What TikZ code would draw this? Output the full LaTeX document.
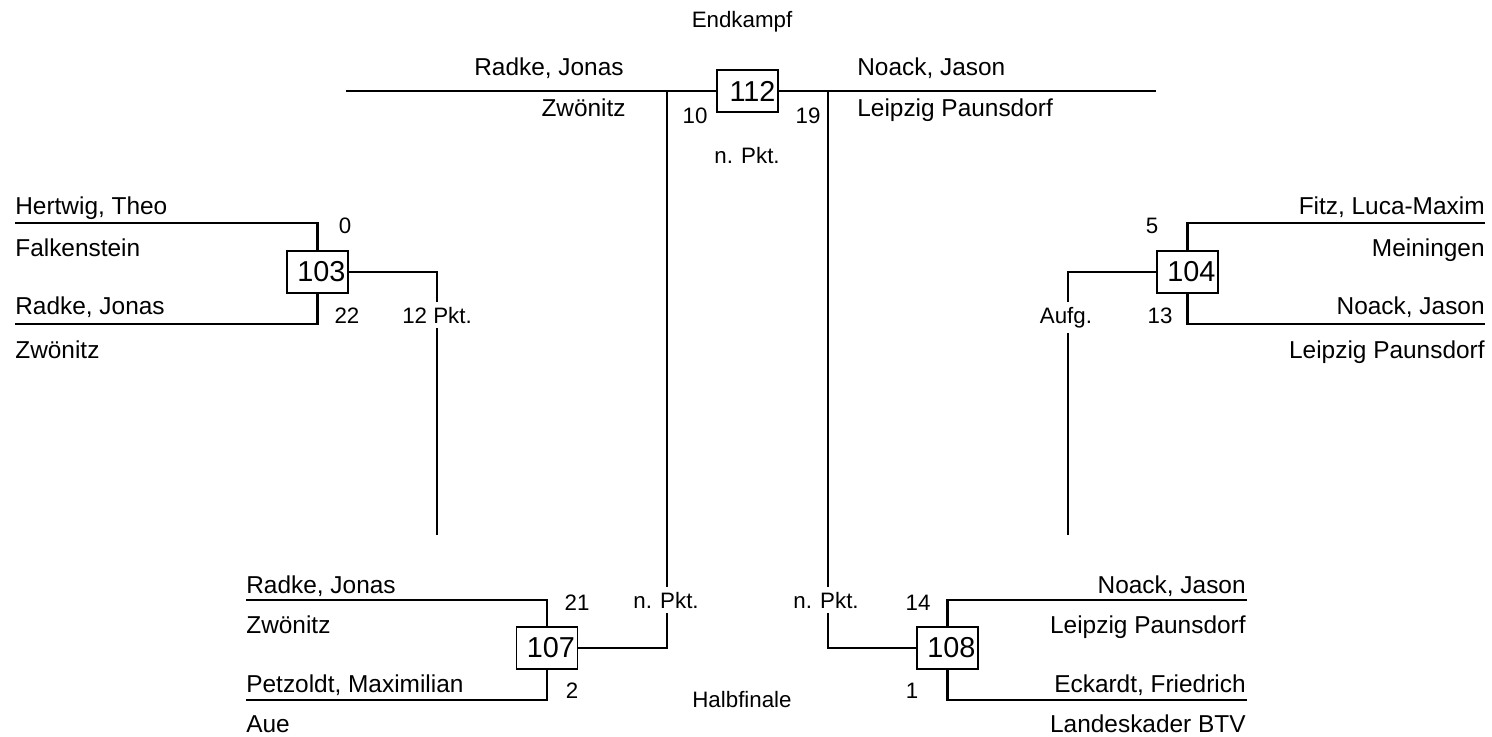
\documentclass[tikz,border=0pt]{standalone}
\usepackage{fontspec}
\setmainfont{Liberation Sans}
\tikzset{
	bar/.style={line width=1.4pt},
	match/.style={draw, line width=0.6pt, fill=white, text width=1.12cm, align=right, inner xsep=0.05cm, inner ysep=0pt, minimum height=0.84cm, font=\fontsize{16.4}{18}\selectfont},
	player/.style={inner sep=0pt, font=\fontsize{13.9}{16}\selectfont},
	pts/.style={inner sep=0pt, anchor=base, font=\fontsize{12.7}{15}\selectfont},
	res/.style={pts, fill=white, inner xsep=1pt, inner ysep=3pt}
}
\begin{document}
\begin{tikzpicture}[x=0.02cm, y=-0.02cm]

	\useasboundingbox (0,0) rectangle (1492,737);

	%Match boxes
	\node [match](m112) at (747.5,91) {112};
	\node [match](m103) at (317.5,272) {103};
	\node [match](m104) at (1187.5,272) {104};
	\node [match](m107) at (547,648) {107};
	\node [match](m108) at (947.5,648) {108};

	%Line ends
	\coordinate (tl) at (346,91);
	\coordinate (tr) at (1156,91);
	\coordinate (j1) at (667,91);
	\coordinate (j2) at (828,91);
	\coordinate (a1) at (15,223);
	\coordinate (a2) at (15,324);
	\coordinate (b1) at (1485,223);
	\coordinate (b2) at (1485,324);
	\coordinate (c1) at (246,600);
	\coordinate (c2) at (246,700);
	\coordinate (d1) at (1247,600);
	\coordinate (d2) at (1247,700);
	\coordinate (e103) at (437,535);
	\coordinate (e104) at (1068,535);

	%Bracket lines
	\draw [bar] (tl) -- (m112) -- (tr);
	\draw [bar] (j1) |- (m107);
	\draw [bar] (j2) |- (m108);
	\draw [bar] (a1) -| (m103);
	\draw [bar] (a2) -| (m103);
	\draw [bar] (b1) -| (m104);
	\draw [bar] (b2) -| (m104);
	\draw [bar] (c1) -| (m107);
	\draw [bar] (c2) -| (m107);
	\draw [bar] (d1) -| (m108);
	\draw [bar] (d2) -| (m108);
	\draw [bar] (m103) -| (e103);
	\draw [bar] (m104) -| (e104);

	%Final
	\node [pts](endk) at (742,28) {Endkampf};
	\node [player, anchor=base east](p1) at (624,75.5) {Radke, Jonas};
	\node [player, anchor=base east](v1) at (626,116.5) {Zwönitz};
	\node [player, anchor=base west](p2) at (857,75.5) {Noack, Jason};
	\node [player, anchor=base west](v2) at (857,116.5) {Leipzig Paunsdorf};
	\node [pts](s1) at (695,123) {10};
	\node [pts](s2) at (808,123) {19};
	\node [pts](r112) at (747,163) {n. Pkt.};

	%Match 103
	\node [player, anchor=base west](p3) at (15,214.5) {Hertwig, Theo};
	\node [player, anchor=base west](v3) at (15,256.5) {Falkenstein};
	\node [player, anchor=base west](p4) at (15,314.5) {Radke, Jonas};
	\node [player, anchor=base west](v4) at (15,358.5) {Zwönitz};
	\node [pts](s3) at (345,233) {0};
	\node [pts](s4) at (347,323) {22};
	\node [res](r103) at (437,323) {12 Pkt.};

	%Match 104
	\node [player, anchor=base east](p5) at (1485,214.5) {Fitz, Luca-Maxim};
	\node [player, anchor=base east](v5) at (1485,256.5) {Meiningen};
	\node [player, anchor=base east](p6) at (1485,314.5) {Noack, Jason};
	\node [player, anchor=base east](v6) at (1485,358.5) {Leipzig Paunsdorf};
	\node [pts](s5) at (1152,233) {5};
	\node [pts](s6) at (1160,323) {13};
	\node [res](r104) at (1066,323) {Aufg.};

	%Match 107
	\node [player, anchor=base west](p7) at (246,593.5) {Radke, Jonas};
	\node [player, anchor=base west](v7) at (246,633.5) {Zwönitz};
	\node [player, anchor=base west](p8) at (246,692.5) {Petzoldt, Maximilian};
	\node [player, anchor=base west](v8) at (246,732.5) {Aue};
	\node [pts](s7) at (577,610) {21};
	\node [pts](s8) at (572,698) {2};
	\node [res](r107) at (666,608) {n. Pkt.};

	%Match 108
	\node [player, anchor=base east](p9) at (1246,593.5) {Noack, Jason};
	\node [player, anchor=base east](v9) at (1246,633.5) {Leipzig Paunsdorf};
	\node [player, anchor=base east](p10) at (1246,692.5) {Eckardt, Friedrich};
	\node [player, anchor=base east](v10) at (1246,732.5) {Landeskader BTV};
	\node [pts](s9) at (918,610) {14};
	\node [pts](s10) at (912,698) {1};
	\node [res](r108) at (826,608) {n. Pkt.};

	\node [pts](halb) at (742,707) {Halbfinale};

\end{tikzpicture}
\end{document}
